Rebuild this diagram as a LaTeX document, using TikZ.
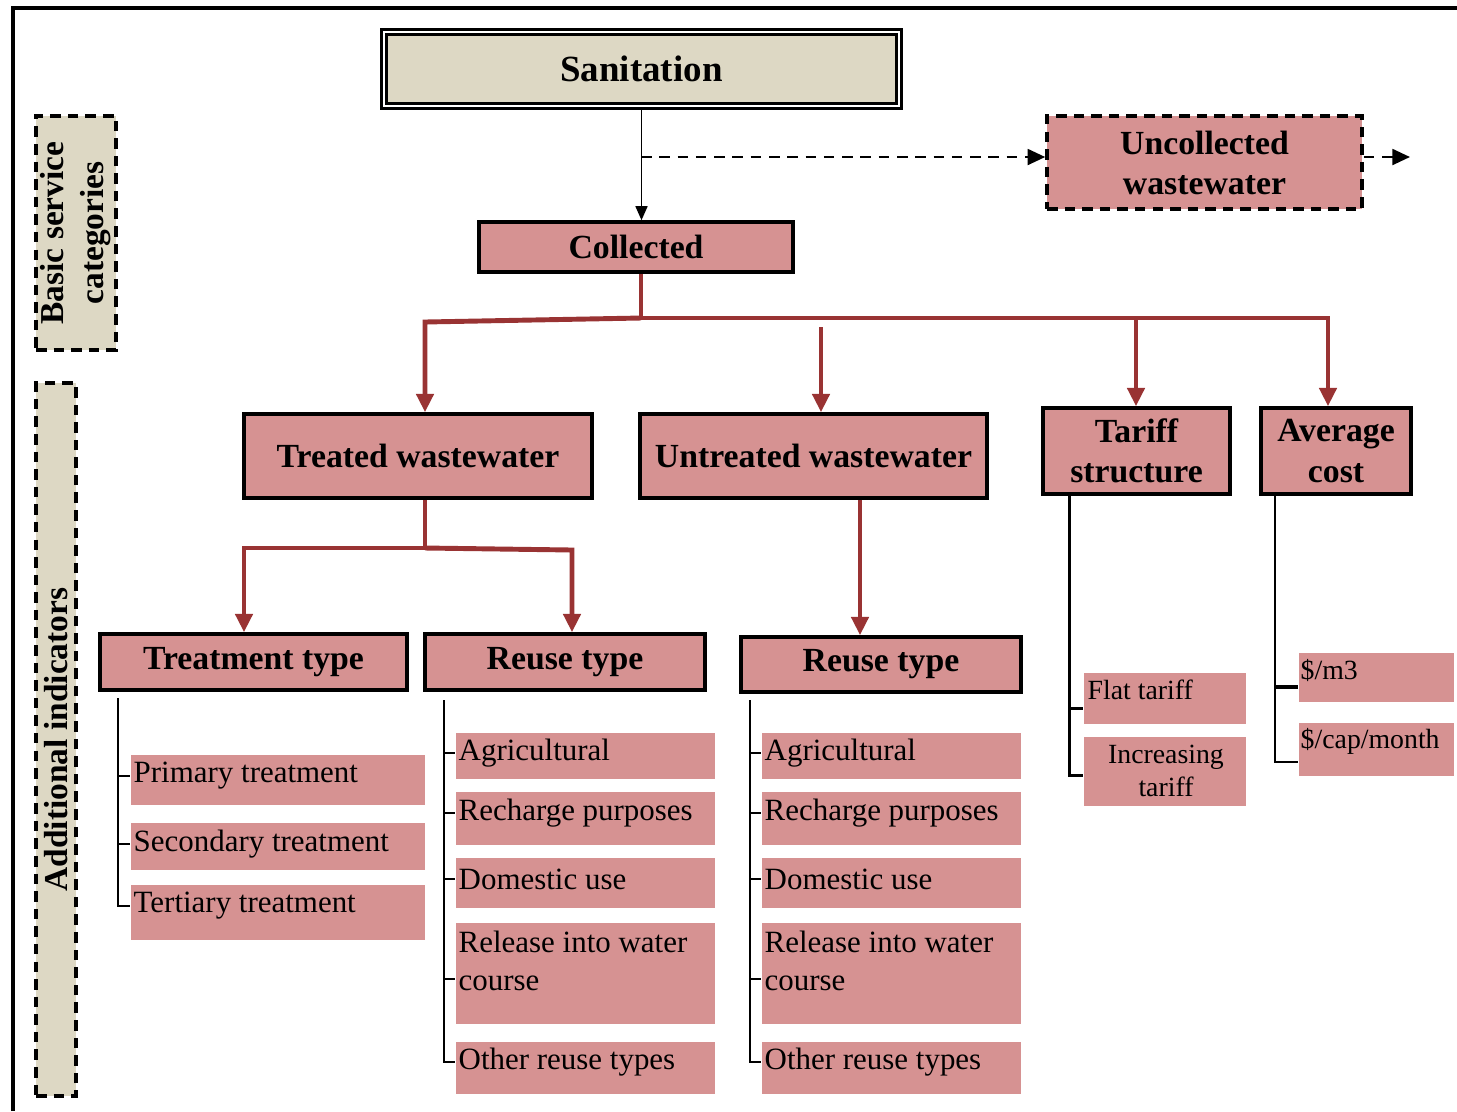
\documentclass[tikz,border=0pt]{standalone}
\usepackage{fontspec}
\setmainfont{Liberation Serif}
\usetikzlibrary{arrows.meta,calc}
\definecolor{boxpink}{RGB}{214,146,146}
\definecolor{boxbeige}{RGB}{221,216,196}
\definecolor{linkred}{RGB}{153,51,51}
\tikzset{
  % a rectangle given by its corners (x1,y1,x2,y2) in picture units
  span/.style n args={4}{anchor=center,
    at={({(#1+#3)/2},{(#2+#4)/2})},
    minimum width={(#3-#1)*0.01cm}, minimum height={(#4-#2)*0.01cm}},
  hdr/.style={draw=black, line width=1pt, fill=boxpink, inner sep=0pt, align=center,
    font=\fontsize{9.6}{11.4}\selectfont\bfseries},
  leafbox/.style={fill=boxpink, inner sep=0pt},
  leaftxt/.style={inner sep=0pt, anchor=west, align=left, font=\fontsize{8.8}{10.8}\selectfont},
  smalltxt/.style={leaftxt, font=\fontsize{7.9}{9.4}\selectfont},
  sidebox/.style={draw=black, line width=1pt, dash pattern=on 3pt off 2pt, fill=boxbeige, inner sep=0pt},
  sidetxt/.style={rotate=90, align=center, inner sep=0pt, font=\fontsize{9.5}{11.4}\selectfont\bfseries},
  redlink/.style={draw=linkred, line width=1.4pt},
  redarrow/.style={redlink, -{Triangle[width=4.8pt,length=5.2pt]}},
  twig/.style={draw=black, line width=0.75pt},
  blackarrow/.style={draw=black, line width=0.5pt, -{Triangle[width=3.4pt,length=4pt]}},
  dasharrow/.style={draw=black, line width=0.7pt, dash pattern=on 3pt off 2.2pt, -{Triangle[width=4.5pt,length=5pt]}},
}
\begin{document}
\begin{tikzpicture}[x=0.01cm, y=-0.01cm]
\useasboundingbox (0,0) rectangle (1457,1111);
\fill[white] (0,0) rectangle (1457,1111);
% outer frame (top and left edges)
\draw[line width=0.9pt] (13,1111) -- (13,8) -- (1457,8);

% side labels
\node[sidebox, span={36}{116}{116}{350}] (basicbox) {};
\node[sidetxt] (basiclbl) at (basicbox.center) {Basic service\\categories};
\node[sidebox, span={36}{383}{76}{1096}] (addbox) {};
\node[sidetxt] (addlbl) at (addbox.center) {Additional indicators};

% top level
\node[hdr, fill=boxbeige, line width=0.8pt, double=white, double distance=0.6pt,
      font=\fontsize{10.5}{12}\selectfont\bfseries, span={384}{32}{899}{106}] (sanit) {Sanitation};
\node[hdr, span={479}{222}{793}{272}] (collected) {Collected};
\node[hdr, dash pattern=on 3pt off 2pt, span={1047}{116}{1362}{209}] (uncol) {Uncollected\\wastewater};

\draw[blackarrow] (sanit.south) -- (sanit.south |- collected.north);
\coordinate (split) at (641,157);
\coordinate (beyond) at (1410,157);
\draw[dasharrow] (split) -- (split -| uncol.west);
\draw[dasharrow] (split -| uncol.east) -- (beyond);

% second level
\node[hdr, span={244}{414}{592}{498}] (treated) {Treated wastewater};
\node[hdr, span={640}{414}{987}{498}] (untreated) {Untreated wastewater};
\node[hdr, span={1043}{408}{1230}{494}] (tariff) {Tariff\\structure};
\node[hdr, span={1261}{408}{1411}{494}] (avg) {Average\\cost};

\coordinate (hub) at (641,318);
\coordinate (tw) at (425,322);
\coordinate (ac) at (1328,318);
\coordinate (uw) at (821,327);
\coordinate (tf) at (1136,319);
\draw[redlink] (hub |- collected.south) -- (hub);
\draw[redarrow] (hub) -- (tw) -- (tw |- treated.north);
\draw[redarrow] (hub) -- (ac) -- (ac |- avg.north);
\draw[redarrow] (uw) -- (uw |- untreated.north);
\draw[redarrow] (tf) -- (tf |- tariff.north);

% third level
\node[hdr, span={100}{634}{407}{690}] (ttype) {Treatment type};
\node[hdr, span={425}{634}{705}{690}] (reuseA) {Reuse type};
\node[hdr, span={741}{637}{1021}{692}] (reuseB) {Reuse type};

\coordinate (tb) at (425,548);
\coordinate (tl) at (244,548);
\coordinate (tr) at (572,550);
\coordinate (ub) at (860,498);
\draw[redlink] (tb |- treated.south) -- (tb);
\draw[redarrow] (tb) -- (tl) -- (tl |- ttype.north);
\draw[redarrow] (tb) -- (tr) -- (tr |- reuseA.north);
\draw[redarrow] (ub |- untreated.south) -- (ub |- reuseB.north);

% treatment types
\node[leafbox, span={131}{755}{425}{805}] (prim) {};
\node[leaftxt] (primT) at (133,776) {Primary treatment};
\node[leafbox, span={131}{823}{425}{870}] (sec) {};
\node[leaftxt] (secT) at (133,844) {Secondary treatment};
\node[leafbox, span={131}{885}{425}{940}] (tert) {};
\node[leaftxt] (tertT) at (133,906) {Tertiary treatment};
\coordinate (ttrunk) at (118,698);
\draw[twig] (ttrunk) |- (tert.west |- tertT);
\draw[twig] (ttrunk |- primT) -- (prim.west |- primT);
\draw[twig] (ttrunk |- secT) -- (sec.west |- secT);

% reuse types, one column under each reuse node
\foreach \col/\dx in {A/0,B/306}{
  \begin{scope}[xshift=\dx*0.01cm]
    \node[leafbox, span={456}{733}{715}{779}] (agri\col) {};
    \node[leaftxt] (agriT\col) at (458,753) {Agricultural};
    \node[leafbox, span={456}{792}{715}{845}] (rech\col) {};
    \node[leaftxt] (rechT\col) at (458,813) {Recharge purposes};
    \node[leafbox, span={456}{858}{715}{908}] (dom\col) {};
    \node[leaftxt] (domT\col) at (458,879) {Domestic use};
    \node[leafbox, span={456}{923}{715}{1024}] (rel\col) {};
    \node[leaftxt] (relT\col) at (458,961) {Release into water\\course};
    \node[leafbox, span={456}{1042}{715}{1094}] (oth\col) {};
    \node[leaftxt] (othT\col) at (458,1062) {Other reuse types};
    \coordinate (rtrunk\col) at (444,700);
    \coordinate (relK\col) at (444,979);
    \draw[twig] (rtrunk\col) |- (oth\col.west |- othT\col);
    \draw[twig] (rtrunk\col |- agriT\col) -- (agri\col.west |- agriT\col);
    \draw[twig] (rtrunk\col |- rechT\col) -- (rech\col.west |- rechT\col);
    \draw[twig] (rtrunk\col |- domT\col) -- (dom\col.west |- domT\col);
    \draw[twig] (relK\col) -- (relK\col -| rel\col.west);
  \end{scope}
}

% tariff structure
\node[leafbox, span={1084}{673}{1246}{724}] (flat) {};
\node[smalltxt] (flatT) at (1087,690) {Flat tariff};
\node[leafbox, span={1084}{737}{1246}{806}] (incr) {};
\node[smalltxt, anchor=center, align=center] (incrT) at (1166,771) {Increasing\\tariff};
\coordinate (tfk) at (1069,708);
\coordinate (tfc) at (1069,775);
\draw[twig, line width=0.85pt] (tfk |- tariff.south) -- (tfc) -- (tfc -| incr.west);
\draw[twig, line width=0.85pt] (tfk) -- (tfk -| flat.west);

% average cost
\node[leafbox, span={1299}{653}{1454}{702}] (perm) {};
\node[smalltxt] (permT) at (1300,670) {\$/m3};
\node[leafbox, span={1299}{723}{1454}{776}] (percap) {};
\node[smalltxt] (percapT) at (1300,741) {\$/cap/month};
\coordinate (ack) at (1275,687);
\coordinate (acc) at (1275,762);
\draw[twig, line width=0.6pt] (ack |- avg.south) -- (acc) -- (acc -| percap.west);
\draw[twig, line width=1.1pt] (ack) -- (ack -| perm.west);
\end{tikzpicture}
\end{document}
